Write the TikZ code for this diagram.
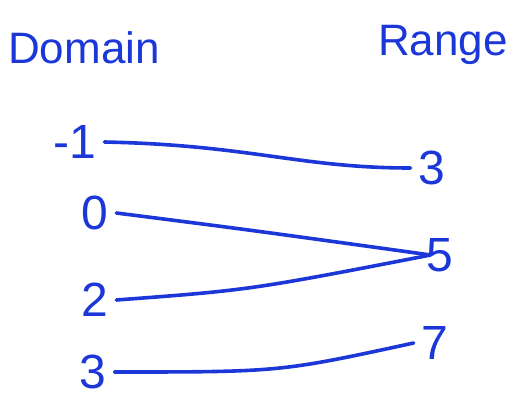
\documentclass[tikz,border=0pt]{standalone}
\usepackage{fontspec}
\setmainfont{Liberation Sans}
\definecolor{pen}{RGB}{28,55,215}
\begin{document}
\begin{tikzpicture}[x=0.5pt,y=-0.5pt,
  lbl/.style={text=pen,inner sep=1pt,outer sep=3pt,font=\fontsize{24}{28}\selectfont},
  hdr/.style={text=pen,inner sep=1pt,font=\fontsize{22}{26}\selectfont},
  link/.style={draw=pen,line width=1.8pt,line cap=round}]
\useasboundingbox (0,0) rectangle (514,401);
\node[hdr] (dom) at (84,48) {Domain};
\node[hdr] (ran) at (443,45) {Range};
\node[lbl] (dm1) at (75,142) {-1};
\node[lbl] (d0) at (95,213) {0};
\node[lbl] (d2) at (95,300) {2};
\node[lbl] (d3) at (93,372) {3};
\node[lbl] (r3) at (432,168) {3};
\node[lbl] (r5) at (440,255) {5};
\node[lbl] (r7) at (435,343) {7};
\draw[link] (dm1.east) .. controls (250,145) and (300,168) .. (r3.west);
\draw[link] (d0.east) .. controls (250,230) .. ([xshift=6]r5.west);
\draw[link] (d2.east) .. controls (250,290) .. ([xshift=6]r5.west);
\draw[link] (d3.east) .. controls (280,372) .. (r7.west);
\end{tikzpicture}
\end{document}
